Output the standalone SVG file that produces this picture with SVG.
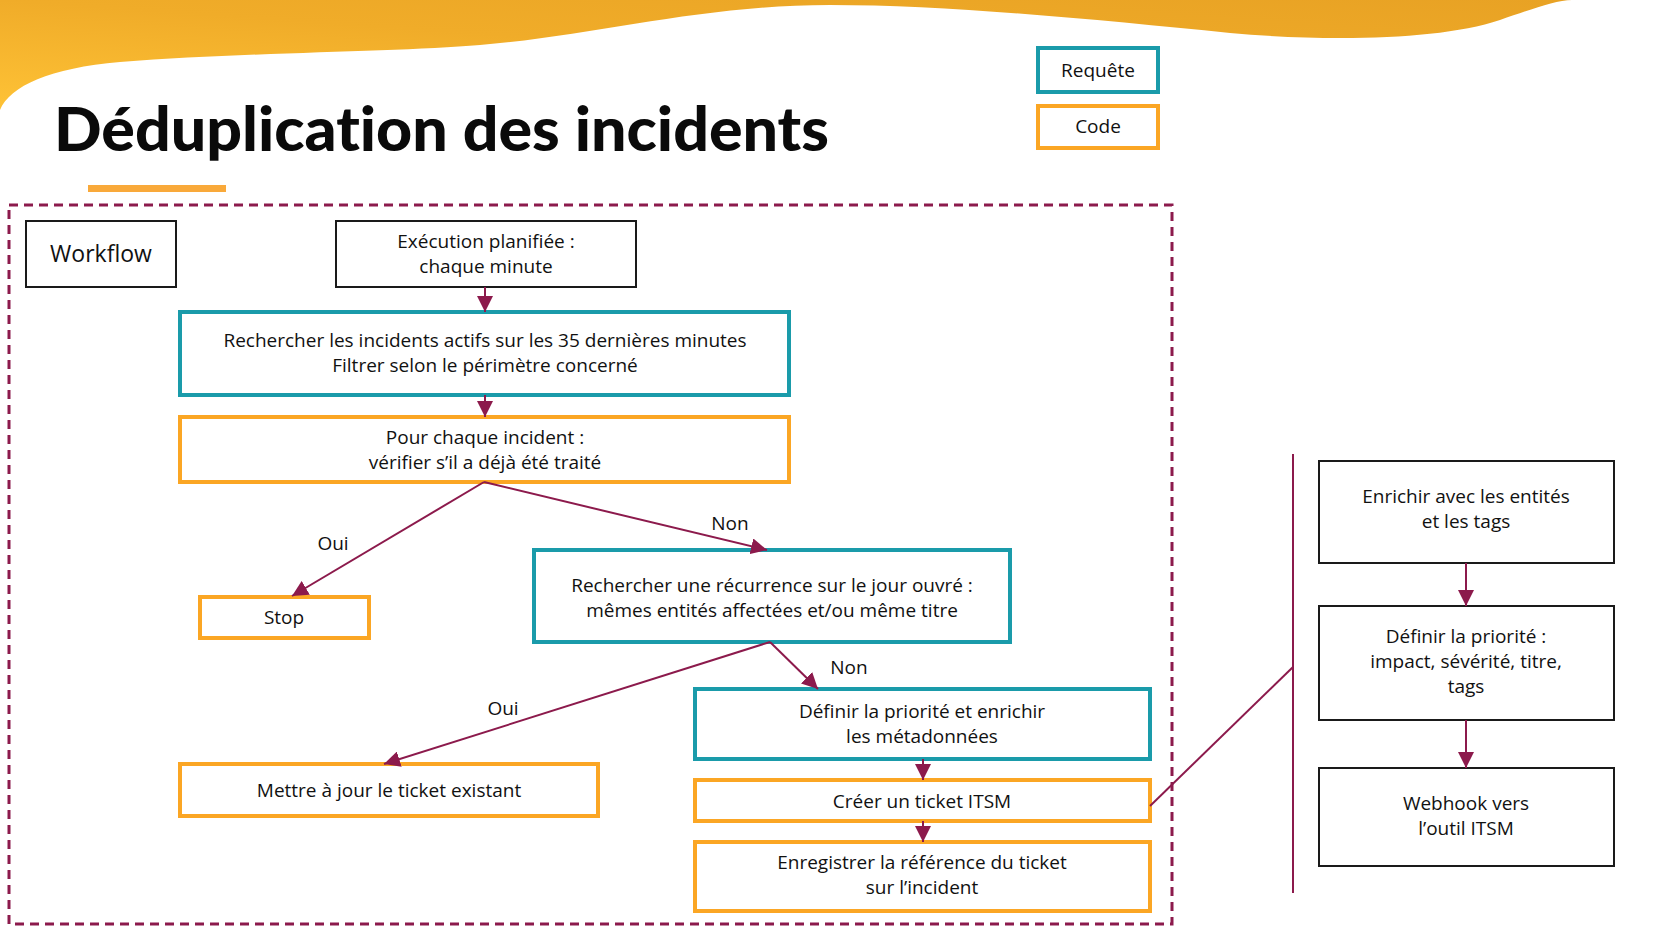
<svg xmlns="http://www.w3.org/2000/svg" width="1666" height="944" viewBox="0 0 1666 944">
<defs>
<linearGradient id="wave" x1="0" y1="1" x2="1" y2="0">
<stop offset="0" stop-color="#FEC236"/>
<stop offset="0.5" stop-color="#F0AC29"/>
<stop offset="1" stop-color="#E8A224"/>
</linearGradient>
<marker id="arr" viewBox="0 0 16 16" refX="16" refY="8" markerWidth="16" markerHeight="16" markerUnits="userSpaceOnUse" orient="auto">
<path d="M0,0 L16,8 L0,16 Z" fill="#8C1A4C"/>
</marker>
<style>
.t{font-family:"Open Sans","Liberation Sans",sans-serif;font-size:19px;fill:#111;text-anchor:middle}
.lb{font-family:"Open Sans","Liberation Sans",sans-serif;font-size:19px;fill:#111;text-anchor:middle}
.wf{font-size:23px}
.q{fill:#fff;stroke:#1A9BAA;stroke-width:4}
.c{fill:#fff;stroke:#FBA624;stroke-width:4}
.b{fill:#fff;stroke:#1a1a1a;stroke-width:2}
.ln{fill:none;stroke:#8C1A4C;stroke-width:2}
.ttl{font-family:Lato,"Open Sans",sans-serif;font-weight:900;font-size:60px;fill:#0a0a0a;font-variant-ligatures:none;font-feature-settings:"liga" 0,"dlig" 0}
</style>
</defs>
<rect width="1666" height="944" fill="#fff"/>
<path d="M0,0 L0,110 C10,86 50,68 120,62 C250,52 400,52 480,45 C600,35 700,5 830,5 C950,5 1100,20 1230,33 C1330,42 1440,40 1500,20 C1530,10 1555,0 1572,0 Z" fill="url(#wave)"/>
<g id="title">
<text class="ttl" x="54" y="151" textLength="775" lengthAdjust="spacingAndGlyphs">Déduplication des incidents</text>
<rect x="88" y="185" width="138" height="7" fill="#F9A93A"/>
</g>
<g id="legend-requete"><rect class="q" x="1038" y="48" width="120" height="44"/><text class="t" x="1098" y="77">Requête</text></g>
<g id="legend-code"><rect class="c" x="1038" y="106" width="120" height="42"/><text class="t" x="1098" y="133">Code</text></g>
<rect id="frame" x="9" y="205" width="1163" height="719" fill="none" stroke="#8C1A4C" stroke-width="3" stroke-dasharray="9 6"/>
<g id="workflow"><rect class="b" x="26" y="221" width="150" height="66"/><text class="t wf" x="101" y="262">Workflow</text></g>
<g id="exec"><rect class="b" x="336" y="221" width="300" height="66"/><text class="t" x="486" y="248">Exécution planifiée :</text><text class="t" x="486" y="273">chaque minute</text></g>
<g id="search"><rect class="q" x="180" y="312" width="609" height="83"/><text class="t" x="485" y="347">Rechercher les incidents actifs sur les 35 dernières minutes</text><text class="t" x="485" y="372">Filtrer selon le périmètre concerné</text></g>
<g id="foreach"><rect class="c" x="180" y="417" width="609" height="65"/><text class="t" x="485" y="444">Pour chaque incident :</text><text class="t" x="485" y="469">vérifier s’il a déjà été traité</text></g>
<g id="stop"><rect class="c" x="200" y="597" width="169" height="41"/><text class="t" x="284" y="624">Stop</text></g>
<g id="recurrence"><rect class="q" x="534" y="550" width="476" height="92"/><text class="t" x="772" y="592">Rechercher une récurrence sur le jour ouvré :</text><text class="t" x="772" y="617">mêmes entités affectées et/ou même titre</text></g>
<g id="update"><rect class="c" x="180" y="764" width="418" height="52"/><text class="t" x="389" y="797">Mettre à jour le ticket existant</text></g>
<g id="priority"><rect class="q" x="695" y="689" width="455" height="70"/><text class="t" x="922" y="718">Définir la priorité et enrichir</text><text class="t" x="922" y="743">les métadonnées</text></g>
<g id="create"><rect class="c" x="695" y="780" width="455" height="41"/><text class="t" x="922" y="808">Créer un ticket ITSM</text></g>
<g id="record"><rect class="c" x="695" y="842" width="455" height="69"/><text class="t" x="922" y="869">Enregistrer la référence du ticket</text><text class="t" x="922" y="894">sur l’incident</text></g>
<g id="enrich"><rect class="b" x="1319" y="461" width="295" height="102"/><text class="t" x="1466" y="503">Enrichir avec les entités</text><text class="t" x="1466" y="528">et les tags</text></g>
<g id="priority2"><rect class="b" x="1319" y="606" width="295" height="114"/><text class="t" x="1466" y="643">Définir la priorité :</text><text class="t" x="1466" y="668">impact, sévérité, titre,</text><text class="t" x="1466" y="693">tags</text></g>
<g id="webhook"><rect class="b" x="1319" y="768" width="295" height="98"/><text class="t" x="1466" y="810">Webhook vers</text><text class="t" x="1466" y="835">l’outil ITSM</text></g>
<g id="connectors">
<line class="ln" x1="485" y1="287" x2="485" y2="312" marker-end="url(#arr)"/>
<line class="ln" x1="485" y1="395" x2="485" y2="417" marker-end="url(#arr)"/>
<line class="ln" x1="484" y1="482" x2="292" y2="596" marker-end="url(#arr)"/>
<line class="ln" x1="484" y1="482" x2="767" y2="550" marker-end="url(#arr)"/>
<line class="ln" x1="770" y1="642" x2="384" y2="764" marker-end="url(#arr)"/>
<line class="ln" x1="770" y1="642" x2="818" y2="689" marker-end="url(#arr)"/>
<line class="ln" x1="923" y1="759" x2="923" y2="780" marker-end="url(#arr)"/>
<line class="ln" x1="923" y1="821" x2="923" y2="842" marker-end="url(#arr)"/>
<line class="ln" x1="1466" y1="563" x2="1466" y2="606" marker-end="url(#arr)"/>
<line class="ln" x1="1466" y1="720" x2="1466" y2="768" marker-end="url(#arr)"/>
<line class="ln" x1="1150" y1="806" x2="1293" y2="667"/>
<line class="ln" x1="1293" y1="454" x2="1293" y2="893"/>
<text class="lb" x="333" y="550">Oui</text>
<text class="lb" x="730" y="530">Non</text>
<text class="lb" x="503" y="715">Oui</text>
<text class="lb" x="849" y="674">Non</text>
</g>
</svg>
